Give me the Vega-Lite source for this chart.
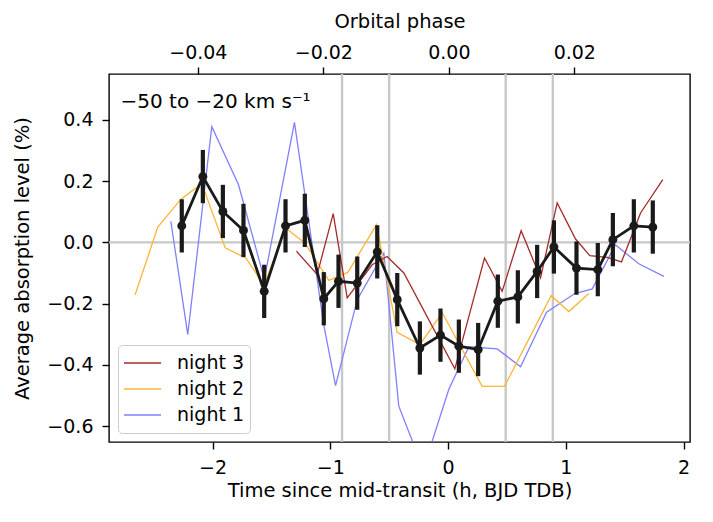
{
  "$schema": "https://vega.github.io/schema/vega-lite/v6.json",
  "width": 581,
  "height": 368,
  "autosize": {"type": "none"},
  "padding": {"left": 109, "top": 74, "right": 23, "bottom": 80},
  "background": "white",
  "config": {
    "font": "DejaVu Sans",
    "view": {"stroke": "black", "strokeWidth": 1.4},
    "axis": {
      "grid": false, "domain": false, "tickColor": "black", "tickSize": 7, "tickWidth": 1.4,
      "labelFontSize": 19, "titleFontSize": 19.5, "labelColor": "black", "titleColor": "black",
      "titleFontWeight": "normal", "labelPadding": 9
    },
    "legend": {
      "orient": "none", "legendX": 9, "legendY": 271,
      "strokeColor": "#cccccc", "fillColor": "white", "padding": 5, "cornerRadius": 4,
      "labelFontSize": 19, "labelColor": "black", "symbolType": "stroke", "symbolSize": 1369,
      "symbolStrokeWidth": 1.4, "rowPadding": 0, "clipHeight": 26, "labelOffset": 15
    }
  },
  "datasets": {
    "mean": [
      {"t": -2.261, "y": 0.054, "lo": -0.033, "hi": 0.141},
      {"t": -2.082, "y": 0.215, "lo": 0.128, "hi": 0.302},
      {"t": -1.912, "y": 0.101, "lo": 0.014, "hi": 0.188},
      {"t": -1.737, "y": 0.039, "lo": -0.048, "hi": 0.126},
      {"t": -1.561, "y": -0.160, "lo": -0.247, "hi": -0.073},
      {"t": -1.380, "y": 0.054, "lo": -0.033, "hi": 0.141},
      {"t": -1.216, "y": 0.072, "lo": -0.015, "hi": 0.159},
      {"t": -1.055, "y": -0.184, "lo": -0.271, "hi": -0.097},
      {"t": -0.930, "y": -0.127, "lo": -0.214, "hi": -0.040},
      {"t": -0.771, "y": -0.133, "lo": -0.220, "hi": -0.046},
      {"t": -0.601, "y": -0.031, "lo": -0.118, "hi": 0.056},
      {"t": -0.431, "y": -0.187, "lo": -0.274, "hi": -0.100},
      {"t": -0.239, "y": -0.345, "lo": -0.432, "hi": -0.258},
      {"t": -0.064, "y": -0.303, "lo": -0.390, "hi": -0.216},
      {"t": 0.092, "y": -0.339, "lo": -0.426, "hi": -0.252},
      {"t": 0.256, "y": -0.350, "lo": -0.437, "hi": -0.263},
      {"t": 0.423, "y": -0.192, "lo": -0.279, "hi": -0.105},
      {"t": 0.593, "y": -0.178, "lo": -0.265, "hi": -0.091},
      {"t": 0.757, "y": -0.095, "lo": -0.182, "hi": -0.008},
      {"t": 0.899, "y": -0.015, "lo": -0.102, "hi": 0.072},
      {"t": 1.091, "y": -0.084, "lo": -0.171, "hi": 0.003},
      {"t": 1.272, "y": -0.089, "lo": -0.176, "hi": -0.002},
      {"t": 1.400, "y": 0.009, "lo": -0.078, "hi": 0.096},
      {"t": 1.578, "y": 0.054, "lo": -0.033, "hi": 0.141},
      {"t": 1.739, "y": 0.050, "lo": -0.037, "hi": 0.137}
    ],
    "nights": [
      {"night": "night 1", "t": -2.354, "y": 0.069},
      {"night": "night 1", "t": -2.210, "y": -0.301},
      {"night": "night 1", "t": -2.006, "y": 0.378},
      {"night": "night 1", "t": -1.779, "y": 0.188},
      {"night": "night 1", "t": -1.560, "y": -0.120},
      {"night": "night 1", "t": -1.304, "y": 0.392},
      {"night": "night 1", "t": -1.055, "y": -0.270},
      {"night": "night 1", "t": -0.955, "y": -0.468},
      {"night": "night 1", "t": -0.771, "y": -0.187},
      {"night": "night 1", "t": -0.545, "y": -0.035},
      {"night": "night 1", "t": -0.418, "y": -0.535},
      {"night": "night 1", "t": -0.210, "y": -0.740},
      {"night": "night 1", "t": 0.007, "y": -0.480},
      {"night": "night 1", "t": 0.177, "y": -0.341},
      {"night": "night 1", "t": 0.418, "y": -0.348},
      {"night": "night 1", "t": 0.616, "y": -0.406},
      {"night": "night 1", "t": 0.837, "y": -0.228},
      {"night": "night 1", "t": 1.077, "y": -0.167},
      {"night": "night 1", "t": 1.225, "y": -0.152},
      {"night": "night 1", "t": 1.422, "y": -0.008},
      {"night": "night 1", "t": 1.620, "y": -0.070},
      {"night": "night 1", "t": 1.833, "y": -0.111},
      {"night": "night 2", "t": -2.657, "y": -0.171},
      {"night": "night 2", "t": -2.465, "y": 0.050},
      {"night": "night 2", "t": -2.266, "y": 0.142},
      {"night": "night 2", "t": -2.091, "y": 0.192},
      {"night": "night 2", "t": -1.892, "y": -0.018},
      {"night": "night 2", "t": -1.717, "y": -0.051},
      {"night": "night 2", "t": -1.561, "y": -0.140},
      {"night": "night 2", "t": -1.380, "y": 0.047},
      {"night": "night 2", "t": -1.216, "y": -0.002},
      {"night": "night 2", "t": -1.012, "y": -0.124},
      {"night": "night 2", "t": -0.851, "y": -0.098},
      {"night": "night 2", "t": -0.607, "y": 0.058},
      {"night": "night 2", "t": -0.432, "y": -0.294},
      {"night": "night 2", "t": -0.239, "y": -0.334},
      {"night": "night 2", "t": -0.049, "y": -0.230},
      {"night": "night 2", "t": 0.290, "y": -0.470},
      {"night": "night 2", "t": 0.480, "y": -0.470},
      {"night": "night 2", "t": 0.876, "y": -0.174},
      {"night": "night 2", "t": 1.026, "y": -0.226},
      {"night": "night 2", "t": 1.196, "y": -0.167},
      {"night": "night 3", "t": -1.287, "y": -0.029},
      {"night": "night 3", "t": -1.111, "y": -0.105},
      {"night": "night 3", "t": -0.975, "y": 0.094},
      {"night": "night 3", "t": -0.856, "y": -0.181},
      {"night": "night 3", "t": -0.644, "y": -0.073},
      {"night": "night 3", "t": -0.517, "y": -0.046},
      {"night": "night 3", "t": -0.375, "y": -0.100},
      {"night": "night 3", "t": 0.058, "y": -0.413},
      {"night": "night 3", "t": 0.310, "y": -0.051},
      {"night": "night 3", "t": 0.460, "y": -0.160},
      {"night": "night 3", "t": 0.621, "y": 0.038},
      {"night": "night 3", "t": 0.786, "y": -0.116},
      {"night": "night 3", "t": 0.927, "y": 0.129},
      {"night": "night 3", "t": 1.083, "y": 0.011},
      {"night": "night 3", "t": 1.204, "y": -0.043},
      {"night": "night 3", "t": 1.352, "y": -0.049},
      {"night": "night 3", "t": 1.473, "y": -0.064},
      {"night": "night 3", "t": 1.635, "y": 0.096},
      {"night": "night 3", "t": 1.824, "y": 0.205}
    ],
    "vlines": [{"t": -0.9}, {"t": -0.5}, {"t": 0.49}, {"t": 0.89}],
    "hline": [{"y": 0}],
    "label": [{"t": -2.781, "y": 0.44, "text": "−50 to −20 km s⁻¹"}],
    "phase": [{"phase": 0}]
  },
  "layer": [
    {
      "layer": [
        {
          "data": {"name": "vlines"},
          "mark": {"type": "rule", "color": "#c8c8c8", "strokeWidth": 2.4},
          "encoding": {
            "x": {"field": "t", "type": "quantitative",
                  "scale": {"domain": [-2.879, 2.055], "nice": false, "zero": false},
                  "axis": {"orient": "bottom", "values": [-2, -1, 0, 1, 2], "format": "d",
                           "title": "Time since mid-transit (h, BJD TDB)", "titlePadding": 4}}
          }
        },
        {
          "data": {"name": "hline"},
          "mark": {"type": "rule", "color": "#c8c8c8", "strokeWidth": 2.4},
          "encoding": {
            "y": {"field": "y", "type": "quantitative",
                  "scale": {"domain": [-0.652, 0.55], "nice": false, "zero": false},
                  "axis": {"values": [-0.6, -0.4, -0.2, 0, 0.2, 0.4], "format": ".1f",
                           "title": "Average absorption level (%)", "titlePadding": 14}}
          }
        },
        {
          "data": {"name": "nights"},
          "mark": {"type": "line", "strokeWidth": 1.3, "clip": true},
          "encoding": {
            "x": {"field": "t", "type": "quantitative"},
            "y": {"field": "y", "type": "quantitative"},
            "color": {"field": "night", "type": "nominal",
                      "scale": {"domain": ["night 3", "night 2", "night 1"],
                                "range": ["#a52a2a", "#ffb435", "#8080ff"]},
                      "legend": {"title": null}},
            "order": {"field": "t", "type": "quantitative"}
          }
        },
        {
          "data": {"name": "mean"},
          "mark": {"type": "rule", "color": "#1a1a1a", "strokeWidth": 4.2},
          "encoding": {
            "x": {"field": "t", "type": "quantitative"},
            "y": {"field": "lo", "type": "quantitative"},
            "y2": {"field": "hi"}
          }
        },
        {
          "data": {"name": "mean"},
          "mark": {"type": "line", "color": "#1a1a1a", "strokeWidth": 2.8},
          "encoding": {
            "x": {"field": "t", "type": "quantitative"},
            "y": {"field": "y", "type": "quantitative"}
          }
        },
        {
          "data": {"name": "mean"},
          "mark": {"type": "point", "filled": true, "color": "#1a1a1a", "size": 80, "opacity": 1},
          "encoding": {
            "x": {"field": "t", "type": "quantitative"},
            "y": {"field": "y", "type": "quantitative"}
          }
        },
        {
          "data": {"name": "label"},
          "mark": {"type": "text", "align": "left", "baseline": "alphabetic", "fontSize": 20, "color": "black"},
          "encoding": {
            "x": {"field": "t", "type": "quantitative"},
            "y": {"field": "y", "type": "quantitative"},
            "text": {"field": "text"}
          }
        }
      ]
    },
    {
      "data": {"name": "phase"},
      "mark": {"type": "point", "opacity": 0},
      "encoding": {
        "x": {"field": "phase", "type": "quantitative",
              "scale": {"domain": [-0.05416, 0.03844], "nice": false, "zero": false},
              "axis": {"orient": "top", "values": [-0.04, -0.02, 0, 0.02], "format": ".2f",
                       "labelPadding": 5, "title": "Orbital phase", "titlePadding": 12}}
      }
    }
  ],
  "resolve": {"scale": {"x": "independent"}, "axis": {"x": "independent"}}
}
